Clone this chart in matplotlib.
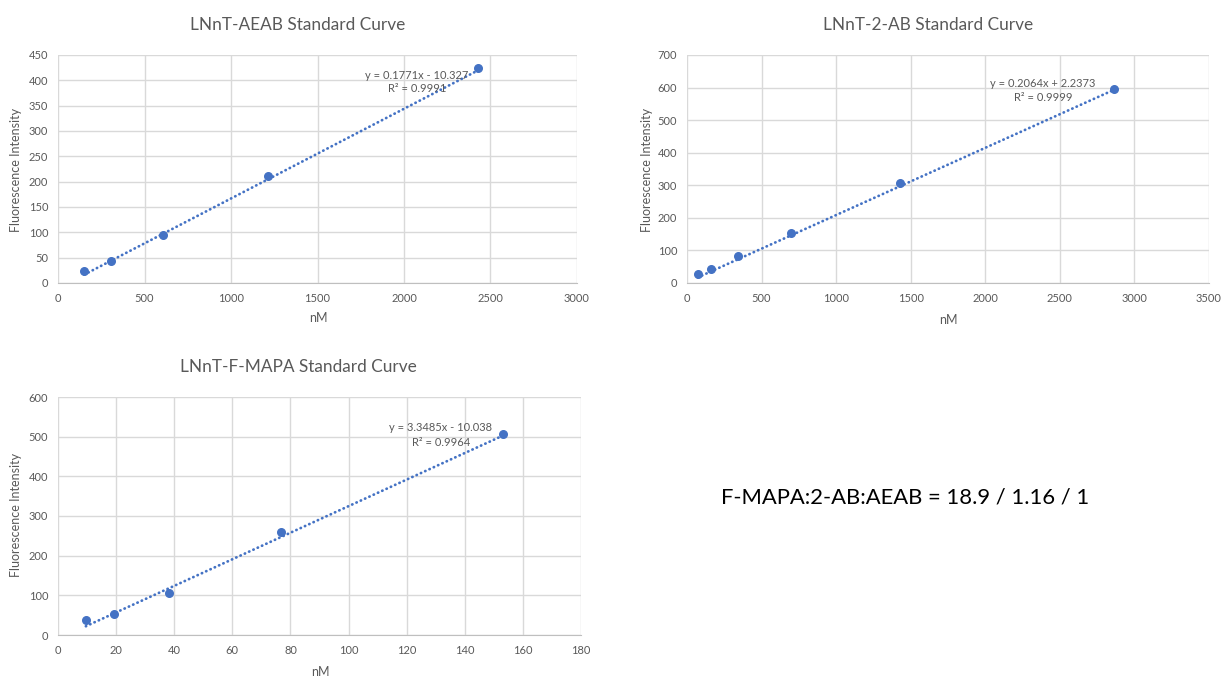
import numpy as np
import matplotlib
matplotlib.use("Agg")
import matplotlib.pyplot as plt

W, H = 1224, 677

# standard curve readings (nM vs fluorescence)
aeab_nm = [152, 304, 608, 1215, 2430]
aeab_fi = [24, 44, 94, 212, 425]
aeab_fit = (0.1771, -10.327, 0.9991)

ab_nm = [72, 163, 345, 700, 1427, 2866]
ab_fi = [27, 44, 82, 155, 308, 596]
ab_fit = (0.2064, 2.2373, 0.9999)

mapa_nm = [9.6, 19.2, 38.3, 76.6, 153.3]
mapa_fi = [38, 53, 105, 259, 507]
mapa_fit = (3.3485, -10.038, 0.9964)

ratio_text = "F-MAPA:2-AB:AEAB = 18.9 / 1.16 / 1"

BLUE = "#4472C4"
GREY = "#595959"
plt.rcParams["font.family"] = ["Lato", "DejaVu Sans"]

fig = plt.figure(figsize=(W / 100, H / 100), dpi=100)


def px(x, y):
    return x / W, 1 - y / H


def make_axes(x0, x1, y0, y1):
    # x0/x1 left/right, y0 bottom, y1 top, all in pixels
    return fig.add_axes([x0 / W, 1 - y0 / H, (x1 - x0) / W, (y0 - y1) / H])


def draw_curve(ax, xs, ys, fit, xmax, xstep, ymax, ystep, eq_pos, title, title_xy, ylab_xy, xlab_xy):
    slope, icpt, r2 = fit
    xs = np.array(xs, dtype=float)
    ax.scatter(xs, ys, s=30, color=BLUE, zorder=3)
    tx = np.array([xs.min(), xs.max()])
    ax.plot(tx, slope * tx + icpt, color=BLUE, lw=2.0,
            linestyle=(0, (0.1, 1.6)), dash_capstyle="round", zorder=2)
    sign = "-" if icpt < 0 else "+"
    ax.text(eq_pos[0], eq_pos[1], f"y = {slope}x {sign} {abs(icpt)}",
            ha="center", va="center", fontsize=8, color=GREY, zorder=4)
    ax.text(eq_pos[0], eq_pos[2], f"R² = {r2}",
            ha="center", va="center", fontsize=8, color=GREY, zorder=4)
    ax.set_xlim(0, xmax)
    ax.set_ylim(0, ymax)
    ax.set_xticks(np.arange(0, xmax + 1e-9, xstep))
    ax.set_yticks(np.arange(0, ymax + 1e-9, ystep))
    ax.grid(True, color="#d9d9d9", lw=1.0)
    ax.set_axisbelow(True)
    for s in ["top", "right", "left"]:
        ax.spines[s].set_visible(False)
    ax.spines["bottom"].set_color("#bfbfbf")
    ax.tick_params(length=0, labelsize=8, colors=GREY, pad=7)
    fig.text(*px(*title_xy), title, ha="center", va="center", fontsize=12.4, color=GREY)
    fig.text(*px(*ylab_xy), "Fluorescence Intensity", ha="center", va="center",
             rotation=90, fontsize=9, color=GREY)
    fig.text(*px(*xlab_xy), "nM", ha="center", va="center", fontsize=9, color=GREY)


ax1 = make_axes(58, 577, 283, 55)
draw_curve(ax1, aeab_nm, aeab_fi, aeab_fit, 3000, 500, 450, 50,
           (2075, 410, 383), "LNnT-AEAB Standard Curve", (298, 25), (16, 170), (318, 318))

ax2 = make_axes(687, 1209, 283, 55)
draw_curve(ax2, ab_nm, ab_fi, ab_fit, 3500, 500, 700, 100,
           (2387, 614, 568), "LNnT-2-AB Standard Curve", (928, 25), (647, 170), (948, 320))

ax3 = make_axes(58, 581, 635, 397)
draw_curve(ax3, mapa_nm, mapa_fi, mapa_fit, 180, 20, 600, 100,
           (131.8, 522, 486), "LNnT-F-MAPA Standard Curve", (298, 367), (16, 515), (320, 672))

fig.text(*px(905, 497), ratio_text, ha="center", va="center", fontsize=15.8, color="#000000")

fig.savefig("out.png", dpi=100)
